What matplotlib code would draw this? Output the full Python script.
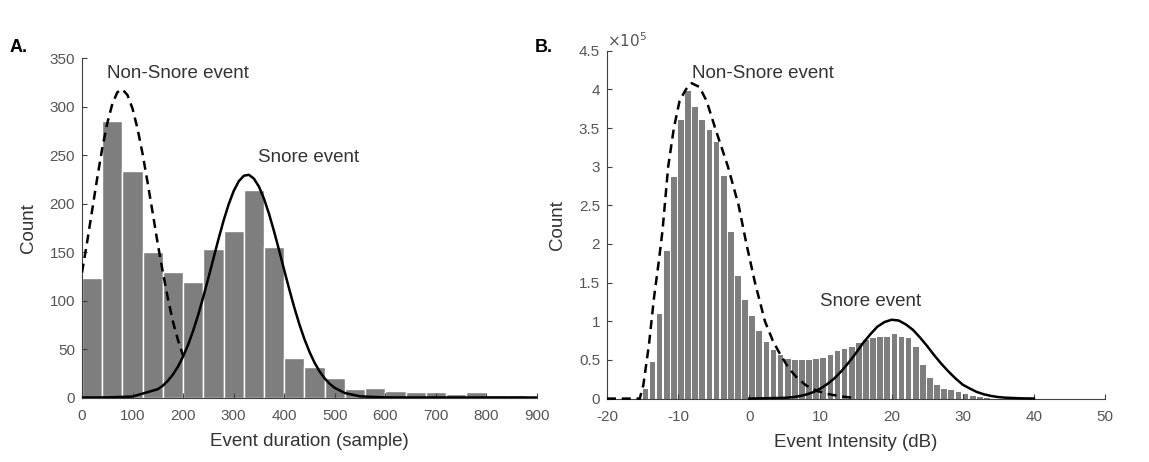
import matplotlib
matplotlib.use("Agg")
import matplotlib.pyplot as plt
from matplotlib.ticker import FuncFormatter

plt.rcParams['font.family'] = ['Liberation Sans', 'DejaVu Sans']
plt.rcParams['axes.unicode_minus'] = False

# ---------------- Panel A data ----------------
dur_bin_edges_left = [0, 40, 80, 120, 160, 200, 240, 280, 320, 360, 400, 440, 480,
                      520, 560, 600, 640, 680, 720, 760, 800, 840, 880]
dur_counts = [123, 285, 234, 150, 129, 119, 153, 172, 214, 155, 41, 31, 20,
              9, 10, 7, 6, 6, 4, 6, 3, 3, 2]
dur_bin_width = 40

nonsnore_dur_x = [0, 10, 20, 30, 40, 50, 60, 70, 80, 90, 100, 110, 120, 130,
                  140, 150, 160, 170, 180, 190, 200]
nonsnore_dur_y = [129, 160, 193, 226, 257, 283, 303, 315, 318, 312, 298, 277,
                  251, 221, 190, 158, 129, 102, 78, 59, 43]

snore_dur_x = [0, 50, 100, 150, 160, 170, 180, 190, 200, 210, 220, 230, 240, 250,
               260, 270, 280, 290, 300, 310, 320, 330, 340, 350, 360, 370, 380,
               390, 400, 410, 420, 430, 440, 450, 460, 470, 480, 490, 500, 520,
               550, 600, 650, 900]
snore_dur_y = [0, 0.1, 1.0, 8.6, 12.3, 17.3, 23.8, 32.0, 42.3, 54.6, 69.1, 85.6,
               103.9, 123.4, 143.5, 163.5, 182.4, 199.2, 213.0, 223.1, 228.8,
               229.8, 225.9, 217.6, 205.1, 189.4, 171.2, 151.6, 131.4, 111.6,
               92.7, 75.5, 60.2, 47.0, 35.9, 26.9, 19.7, 14.1, 9.9, 4.6, 1.2,
               0.1, 0, 0]

# ---------------- Panel B data (counts in units of 1e5) ----------------
int_bin_left = list(range(-15, 34))
int_counts_e5 = [0.13, 0.47, 1.10, 1.91, 2.87, 3.61, 3.98, 3.77, 3.60, 3.47,
                 3.32, 2.88, 2.15, 1.59, 1.28, 1.07, 0.87, 0.73, 0.63, 0.57,
                 0.51, 0.50, 0.50, 0.50, 0.51, 0.53, 0.56, 0.61, 0.64, 0.67,
                 0.72, 0.76, 0.79, 0.80, 0.80, 0.84, 0.80, 0.79, 0.67, 0.44,
                 0.27, 0.18, 0.13, 0.11, 0.09, 0.06, 0.035, 0.02, 0.01]

nonsnore_int_x = [-20, -15.4, -14.9, -14.1, -13.4, -12.7, -12.2, -11.4, -10.6,
                  -9.8, -8.9, -8.1, -7.0, -6.0, -4.8, -3.0, -1.5, -0.4, 0.8,
                  2.2, 3.3, 4.3, 5.5, 6.7, 8.0, 9.5, 11.0, 12.8, 15.0]
nonsnore_int_y = [0, 0, 0.17, 0.70, 1.30, 1.79, 2.17, 3.0, 3.5, 3.85, 4.0,
                  4.08, 4.03, 3.85, 3.5, 3.0, 2.5, 2.0, 1.5, 1.0, 0.75, 0.58,
                  0.4, 0.27, 0.17, 0.10, 0.06, 0.03, 0.005]

snore_int_x = [0, 5, 6, 7, 8, 9, 10, 11, 12, 13, 14, 15, 16, 17, 18, 19, 20,
               21, 22, 23, 24, 25, 26, 27, 28, 29, 30, 31, 32, 33, 34, 35, 36,
               38, 40]
snore_int_y = [0, 0.01, 0.018, 0.031, 0.052, 0.083, 0.13, 0.19, 0.265, 0.36,
               0.47, 0.59, 0.72, 0.83, 0.93, 0.99, 1.02, 1.01, 0.96, 0.89,
               0.79, 0.68, 0.56, 0.45, 0.35, 0.26, 0.18, 0.13, 0.085, 0.055,
               0.034, 0.020, 0.012, 0.004, 0.001]

# ---------------- Style ----------------
bar_color = '#7e7e7e'
axis_color = '#404040'
tick_color = '#555555'
text_color = '#333333'
TICK_FS = 11
LABEL_FS = 13.5
ANNOT_FS = 13.5

W, H = 1149, 462
fig = plt.figure(figsize=(W / 100, H / 100), dpi=100)


def style_axes(ax):
    for s in ['top', 'right']:
        ax.spines[s].set_visible(False)
    for s in ['left', 'bottom']:
        ax.spines[s].set_color(axis_color)
        ax.spines[s].set_linewidth(0.8)
    ax.tick_params(direction='in', length=3.5, width=0.8, colors=axis_color,
                   labelcolor=tick_color, labelsize=TICK_FS)
    ax.tick_params(axis='x', pad=8.5)
    ax.tick_params(axis='y', pad=5)


# Panel A
axA = fig.add_axes([82 / W, 1 - 397.5 / H, (537 - 82) / W, (397.5 - 58.3) / H])
axA.bar(dur_bin_edges_left, dur_counts, width=dur_bin_width, align='edge',
        color=bar_color, edgecolor='white', linewidth=1.0, zorder=1)
axA.plot(nonsnore_dur_x, nonsnore_dur_y, color='black', lw=1.8,
         linestyle=(0, (3.6, 2.3)), zorder=3)
axA.plot(snore_dur_x, snore_dur_y, color='black', lw=1.8, zorder=3)
axA.set_xlim(0, 900)
axA.set_ylim(0, 350)
axA.set_xticks(range(0, 901, 100))
axA.set_yticks(range(0, 351, 50))
style_axes(axA)
axA.set_xlabel('Event duration (sample)', fontsize=LABEL_FS, color=text_color, labelpad=7)
axA.set_ylabel('Count', fontsize=LABEL_FS, color=text_color, labelpad=9)
axA.text(49, 334, 'Non-Snore event', fontsize=ANNOT_FS, color=text_color, va='center')
axA.text(348, 248, 'Snore event', fontsize=ANNOT_FS, color=text_color, va='center')
fig.text(10 / W, 1 - 47 / H, 'A.', fontsize=13, fontweight='bold', va='center')

# Panel B
axB = fig.add_axes([607 / W, 1 - 398.6 / H, (1105 - 607) / W, (398.6 - 50.7) / H])
axB.bar(int_bin_left, int_counts_e5, width=0.8, align='edge',
        color=bar_color, edgecolor='none', zorder=1)
axB.plot(nonsnore_int_x, nonsnore_int_y, color='black', lw=1.8,
         linestyle=(0, (3.6, 2.3)), zorder=3, clip_on=False)
axB.plot(snore_int_x, snore_int_y, color='black', lw=1.8, zorder=3, clip_on=False)
axB.set_xlim(-20, 50)
axB.set_ylim(0, 4.5)
axB.set_xticks(range(-20, 51, 10))
axB.set_yticks([i * 0.5 for i in range(10)])
axB.yaxis.set_major_formatter(FuncFormatter(lambda v, p: '%g' % v))
style_axes(axB)
axB.set_xlabel('Event Intensity (dB)', fontsize=LABEL_FS, color=text_color, labelpad=7)
axB.set_ylabel('Count', fontsize=LABEL_FS, color=text_color, labelpad=9)
axB.text(-8.05, 4.21, 'Non-Snore event', fontsize=ANNOT_FS, color=text_color, va='center')
axB.text(9.9, 1.25, 'Snore event', fontsize=ANNOT_FS, color=text_color, va='center')
fig.text(535 / W, 1 - 47 / H, 'B.', fontsize=13, fontweight='bold', va='center')
fig.text(607 / W, 1 - 41 / H, r'$\times10^{5}$', fontsize=11, color=tick_color,
         va='center', ha='left')

fig.savefig('out.png', dpi=100)
